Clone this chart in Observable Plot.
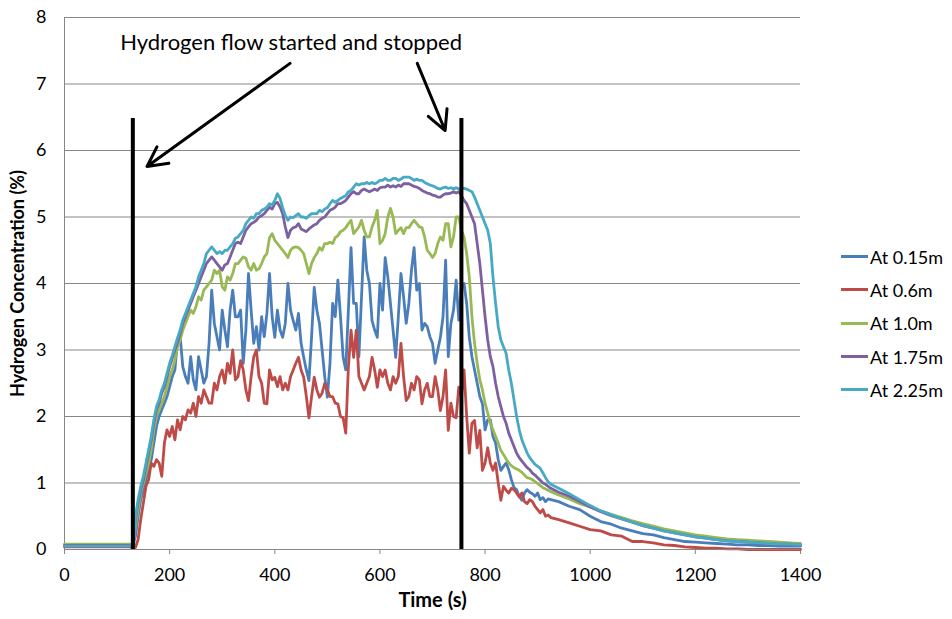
<!DOCTYPE html>
<html>
<head>
<meta charset="utf-8">
<script src="https://cdn.jsdelivr.net/npm/d3@7"></script>
<script src="https://cdn.jsdelivr.net/npm/@observablehq/plot@0.6"></script>
<style>
  html, body { margin: 0; padding: 0; background: #fff; }
  #wrap { position: relative; width: 952px; height: 619px; font-family: Lato, "Open Sans", sans-serif; }
  #legend { position: absolute; left: 841px; top: 240px; font-size: 18px; color: #000; }
  #legend .item { display: flex; align-items: center; height: 33.3px; }
  #legend .sw { width: 27px; height: 3px; margin-right: 2px; }
</style>
</head>
<body>
<div id="wrap"><div id="legend"></div></div>
<script>
// ---- Data ----
const seriesNames = ["At 0.15m", "At 0.6m", "At 1.0m", "At 1.75m", "At 2.25m"];
const seriesColors = ["#4A7EBB", "#BE4B48", "#98B954", "#7D60A0", "#46AAC5"];

// time samples (s)
const baseTimes = [0, 25, 50, 75, 100, 125];
const activeTimes = d3.range(130, 926, 5); // 130 ... 925 every 5 s
const tailTimes = [940, 960, 980, 1000, 1020, 1040, 1060, 1080, 1100, 1120, 1140, 1160,
  1180, 1200, 1220, 1240, 1260, 1280, 1300, 1320, 1340, 1360, 1380, 1400];

// At 0.15m (blue)
const h015 = [
  0.05, 0.05, 0.05, 0.05, 0.05, 0.05,
  0.05, 0.2, 0.5, 0.75, 0.9, 1.05, 1.2, 1.35, 1.6, 1.85,
  2.0, 2.1, 2.2, 2.3, 2.45, 2.6, 2.7, 3.15, 3.2, 2.75,
  2.6, 2.5, 2.9, 2.55, 2.4, 2.9, 2.7, 2.5, 2.6, 3.1,
  3.9, 3.4, 3.2, 3.0, 3.6, 3.3, 3.05, 3.6, 3.9, 3.5,
  3.5, 3.6, 2.8, 3.3, 4.15, 3.6, 3.1, 3.35, 3.0, 3.5,
  3.2, 3.55, 4.15, 3.5, 3.19, 3.6, 3.3, 3.19, 3.4, 4.0,
  3.6, 3.44, 3.3, 3.55, 3.1, 2.89, 2.7, 2.54, 3.2, 3.94,
  3.6, 3.4, 3.0, 2.6, 2.29, 2.8, 3.7, 3.5, 4.05, 3.5,
  2.89, 2.7, 3.6, 4.54, 3.7, 3.7, 2.9, 3.8, 4.7, 4.2,
  4.0, 3.44, 3.3, 3.19, 4.0, 3.6, 4.39, 4.1, 3.7, 3.3,
  2.89, 3.5, 4.15, 3.8, 3.4, 3.7, 4.2, 4.54, 3.9, 4.0,
  3.3, 3.4, 3.35, 3.2, 3.1, 2.8, 3.0, 3.19, 3.5, 4.35,
  2.9, 3.4, 3.6, 4.05, 3.45, 3.94, 4.0, 3.7, 3.19, 2.9,
  2.7, 2.5, 2.3, 2.19, 1.8, 1.95, 1.95, 1.7, 1.6, 1.35,
  1.19, 1.25, 1.3, 1.2, 1.05, 0.93, 0.9, 0.8, 0.74, 0.85,
  0.9, 0.86, 0.84, 0.8, 0.85, 0.75, 0.78, 0.72, 0.76, 0.75,
  0.72, 0.65, 0.6, 0.5, 0.42, 0.38, 0.32, 0.28, 0.24, 0.22, 0.18, 0.15,
  0.12, 0.11, 0.1, 0.09, 0.08, 0.07, 0.07, 0.06, 0.06, 0.05, 0.05, 0.05
];

// At 0.6m (red)
const h06 = [
  0.04, 0.04, 0.04, 0.04, 0.04, 0.04,
  0.02, 0.03, 0.15, 0.45, 0.7, 0.95, 1.05, 1.3, 1.25, 1.35,
  1.3, 1.1, 1.6, 1.8, 1.7, 1.85, 1.65, 1.95, 1.8, 2.0,
  1.95, 2.1, 2.05, 2.2, 2.0, 2.3, 2.2, 2.4, 2.3, 2.2,
  2.2, 2.5, 2.4, 2.6, 2.7, 2.5, 2.8, 2.65, 3.0, 2.55,
  2.6, 2.84, 2.7, 2.4, 2.24, 2.6, 2.9, 3.0, 2.6, 2.5,
  2.2, 2.19, 2.7, 2.55, 2.59, 2.45, 2.6, 2.4, 2.5, 2.4,
  2.6, 2.7, 2.8, 2.89, 2.7, 2.59, 2.3, 1.98, 2.3, 2.59,
  2.4, 2.29, 2.35, 2.5, 2.4, 2.3, 2.3, 2.2, 2.19, 2.0,
  1.98, 1.75, 2.74, 3.3, 2.89, 3.3, 2.6, 2.5, 2.4, 2.5,
  2.6, 2.89, 2.7, 2.44, 2.7, 2.6, 2.7, 2.5, 2.4, 2.6,
  2.5, 2.6, 3.1, 2.6, 2.24, 2.3, 2.5, 2.4, 2.6, 2.55,
  2.19, 2.4, 2.5, 2.3, 2.3, 2.6, 2.4, 2.09, 2.3, 2.7,
  1.79, 2.2, 2.0, 1.98, 2.44, 2.3, 2.7, 2.0, 1.45, 1.9,
  1.94, 1.53, 1.79, 1.19, 1.3, 1.53, 1.3, 1.19, 1.3, 1.0,
  0.74, 0.95, 0.89, 0.85, 0.92, 0.9, 0.85, 0.79, 0.85, 0.72,
  0.69, 0.75, 0.72, 0.65, 0.6, 0.55, 0.6, 0.5, 0.52, 0.48,
  0.45, 0.4, 0.35, 0.3, 0.28, 0.22, 0.2, 0.12, 0.12, 0.1, 0.07, 0.06,
  0.04, 0.03, 0.02, 0.02, 0.01, 0.01, 0.0, 0.0, 0.0, 0.0, 0.0, 0.0
];

// At 1.0m (green)
const h10 = [
  0.08, 0.08, 0.08, 0.08, 0.08, 0.08,
  0.08, 0.35, 0.6, 0.85, 1.0, 1.15, 1.3, 1.5, 1.8, 2.0,
  2.1, 2.2, 2.3, 2.45, 2.6, 2.7, 2.85, 3.05, 3.15, 3.3,
  3.4, 3.5, 3.6, 3.55, 3.65, 3.8, 3.75, 3.9, 3.95, 4.0,
  4.05, 4.2, 4.15, 4.2, 3.95, 3.9, 4.1, 4.05, 4.15, 4.3,
  4.3, 4.35, 4.4, 4.38, 4.25, 4.2, 4.3, 4.2, 4.22, 4.3,
  4.4, 4.45, 4.69, 4.75, 4.65, 4.6, 4.55, 4.5, 4.45, 4.39,
  4.5, 4.54, 4.55, 4.54, 4.5, 4.45, 4.3, 4.15, 4.3, 4.39,
  4.45, 4.54, 4.5, 4.6, 4.6, 4.62, 4.6, 4.69, 4.72, 4.78,
  4.8, 4.84, 4.9, 4.95, 4.75, 4.8, 4.85, 4.95, 4.8, 4.7,
  4.7, 4.85, 4.95, 5.1, 4.6, 4.65, 4.75, 5.0, 5.13, 5.0,
  4.75, 4.8, 4.84, 4.75, 4.84, 4.84, 4.9, 4.95, 4.9, 4.85,
  4.84, 4.7, 4.5, 4.45, 4.39, 4.45, 4.6, 4.7, 4.65, 4.9,
  4.9, 4.55, 4.7, 5.0, 5.0, 4.8, 4.7, 4.45, 4.1, 3.5,
  3.1, 2.8, 2.55, 2.4, 2.2, 2.05, 1.9, 1.8, 1.7, 1.6,
  1.49, 1.43, 1.36, 1.3, 1.26, 1.23, 1.21, 1.19, 1.16, 1.12,
  1.08, 1.07, 1.05, 1.02, 0.99, 0.96, 0.93, 0.91, 0.89, 0.87,
  0.82, 0.76, 0.69, 0.64, 0.58, 0.53, 0.48, 0.43, 0.39, 0.35, 0.31, 0.28,
  0.25, 0.22, 0.2, 0.18, 0.16, 0.15, 0.14, 0.13, 0.12, 0.11, 0.1, 0.09
];

// At 1.75m (purple)
const h175 = [
  0.06, 0.06, 0.06, 0.06, 0.06, 0.06,
  0.08, 0.45, 0.7, 0.9, 1.05, 1.25, 1.45, 1.65, 1.9, 2.1,
  2.2, 2.35, 2.45, 2.6, 2.75, 2.88, 3.0, 3.12, 3.25, 3.4,
  3.5, 3.6, 3.7, 3.8, 3.9, 4.0, 4.1, 4.2, 4.3, 4.35,
  4.4, 4.35, 4.3, 4.25, 4.2, 4.28, 4.3, 4.4, 4.5, 4.6,
  4.62, 4.6, 4.7, 4.8, 4.85, 4.9, 4.92, 4.95, 5.0, 5.02,
  5.05, 5.1, 5.15, 5.12, 5.2, 5.22, 5.15, 5.05, 4.85, 4.69,
  4.8, 4.84, 4.85, 4.9, 4.82, 4.8, 4.78, 4.82, 4.85, 4.88,
  4.9, 4.95, 4.98, 5.0, 5.05, 5.1, 5.12, 5.15, 5.2, 5.2,
  5.22, 5.25, 5.3, 5.35, 5.38, 5.35, 5.35, 5.4, 5.42, 5.4,
  5.38, 5.4, 5.42, 5.4, 5.44, 5.45, 5.45, 5.48, 5.45, 5.47,
  5.45, 5.48, 5.46, 5.5, 5.5, 5.5, 5.48, 5.46, 5.45, 5.43,
  5.4, 5.38, 5.36, 5.35, 5.33, 5.32, 5.3, 5.3, 5.33, 5.35,
  5.35, 5.36, 5.38, 5.36, 5.38, 5.32, 5.25, 5.2, 5.1, 5.0,
  4.9, 4.6, 4.3, 3.9, 3.5, 3.15, 2.9, 2.75, 2.5, 2.3,
  2.15, 2.0, 1.9, 1.75, 1.65, 1.55, 1.45, 1.38, 1.33, 1.28,
  1.23, 1.2, 1.15, 1.12, 1.08, 1.04, 1.0, 0.98, 0.95, 0.92,
  0.86, 0.8, 0.72, 0.64, 0.57, 0.51, 0.46, 0.41, 0.36, 0.32, 0.28, 0.25,
  0.22, 0.19, 0.17, 0.15, 0.13, 0.12, 0.11, 0.1, 0.09, 0.08, 0.08, 0.07
];

// At 2.25m (cyan)
const h225 = [
  0.05, 0.05, 0.05, 0.05, 0.05, 0.05,
  0.1, 0.5, 0.75, 0.95, 1.1, 1.3, 1.5, 1.7, 1.95, 2.15,
  2.25, 2.4, 2.5, 2.65, 2.8, 2.92, 3.05, 3.18, 3.3, 3.45,
  3.55, 3.65, 3.75, 3.85, 3.95, 4.1, 4.2, 4.3, 4.45, 4.5,
  4.55, 4.5, 4.45, 4.48, 4.45, 4.5, 4.5, 4.55, 4.6, 4.68,
  4.7, 4.75, 4.8, 4.9, 4.95, 5.0, 4.98, 5.05, 5.05, 5.1,
  5.12, 5.15, 5.2, 5.18, 5.25, 5.35, 5.28, 5.14, 5.02, 4.95,
  5.0, 4.99, 5.02, 5.05, 5.0, 5.0, 4.98, 5.02, 5.05, 5.05,
  5.05, 5.1, 5.08, 5.12, 5.14, 5.2, 5.25, 5.22, 5.25, 5.28,
  5.3, 5.32, 5.38, 5.4, 5.45, 5.5, 5.48, 5.5, 5.5, 5.52,
  5.5, 5.52, 5.5, 5.52, 5.55, 5.55, 5.58, 5.55, 5.55, 5.58,
  5.58, 5.55, 5.57, 5.6, 5.6, 5.6, 5.58, 5.55, 5.57, 5.55,
  5.55, 5.52, 5.5, 5.48, 5.47, 5.45, 5.43, 5.42, 5.44, 5.45,
  5.43, 5.44, 5.42, 5.44, 5.42, 5.43, 5.43, 5.42, 5.4, 5.38,
  5.3, 5.2, 5.1, 5.0, 4.9, 4.8, 4.6, 4.1, 3.7, 3.35,
  3.15, 3.05, 2.95, 2.7, 2.5, 2.25, 2.0, 1.8, 1.65, 1.55,
  1.45, 1.38, 1.33, 1.28, 1.25, 1.22, 1.15, 1.08, 1.02, 0.98,
  0.92, 0.84, 0.75, 0.66, 0.58, 0.52, 0.46, 0.41, 0.36, 0.32, 0.28, 0.25,
  0.22, 0.19, 0.17, 0.15, 0.13, 0.12, 0.11, 0.1, 0.09, 0.08, 0.08, 0.07
];

// annotation data
const flowEvents = [130, 755];          // start / stop of hydrogen flow (s)
const flowLineTop = 6.48;               // top of the marker lines (%)
const noteText = "Hydrogen flow started and stopped";
const notePos = {t: 431, c: 7.61};
const arrows = [
  {t1: 429, c1: 7.31, t2: 157, c2: 5.76},
  {t1: 671, c1: 7.31, t2: 724, c2: 6.30}
];
const xTicks = [0, 200, 400, 600, 800, 1000, 1200, 1400];
const yTicks = [0, 1, 2, 3, 4, 5, 6, 7, 8];
const xTitle = "Time (s)";
const yTitle = "Hydrogen Concentration (%)";

// ---- build tidy rows ----
const allTimes = baseTimes.concat(activeTimes, tailTimes);
const seriesValues = [h015, h06, h10, h175, h225];
const rows = [];
seriesValues.forEach((vals, s) => {
  vals.forEach((v, i) => rows.push({series: seriesNames[s], t: allTimes[i], v}));
});

const grey = "#868686";
const plain = (d) => String(d);
const chart = Plot.plot({
  width: 952,
  height: 619,
  marginLeft: 64,
  marginRight: 152,
  marginTop: 17,
  marginBottom: 70,
  style: {fontFamily: "Lato, 'Open Sans', sans-serif", fontSize: "17px", color: "#000", background: "#fff"},
  x: {domain: [0, 1400]},
  y: {domain: [0, 8]},
  color: {domain: seriesNames, range: seriesColors},
  marks: [
    Plot.gridY(yTicks, {stroke: grey, strokeOpacity: 1, strokeWidth: 1}),
    Plot.ruleX([0], {stroke: grey, strokeWidth: 1}),
    Plot.axisY(yTicks, {tickSize: 0, tickPadding: 18, tickFormat: plain, label: null, fontSize: 18, fill: "#000"}),
    Plot.axisX(xTicks, {tickSize: 5, tickPadding: 14, tickFormat: plain, label: null, fontSize: 18, stroke: grey, fill: "#000"}),
    Plot.line(rows, {x: "t", y: "v", z: "series", stroke: "series", strokeWidth: 2.8, strokeLinejoin: "round"}),
    Plot.ruleY([0], {stroke: grey, strokeWidth: 1}),
    Plot.ruleX(flowEvents, {y1: 0, y2: flowLineTop, stroke: "#000", strokeWidth: 4}),
    Plot.arrow(arrows, {x1: "t1", y1: "c1", x2: "t2", y2: "c2", stroke: "#000", strokeWidth: 3, headLength: 11, headAngle: 55}),
    Plot.text([noteText], {x: notePos.t, y: notePos.c, fontSize: 22, fill: "#000"}),
    Plot.text([xTitle], {frameAnchor: "bottom", dy: 57, fontSize: 20, fontWeight: "bold", fill: "#000"}),
    Plot.text([yTitle], {frameAnchor: "left", textAnchor: "middle", dx: -46, rotate: -90, fontSize: 18, fontWeight: "bold", fill: "#000"})
  ]
});
const wrap = document.getElementById("wrap");
wrap.insertBefore(chart, wrap.firstChild);

// legend to the right
const legend = document.getElementById("legend");
seriesNames.forEach((name, i) => {
  const item = document.createElement("div");
  item.className = "item";
  const sw = document.createElement("span");
  sw.className = "sw";
  sw.style.background = seriesColors[i];
  const lab = document.createElement("span");
  lab.textContent = name;
  item.appendChild(sw);
  item.appendChild(lab);
  legend.appendChild(item);
});
</script>
</body>
</html>
